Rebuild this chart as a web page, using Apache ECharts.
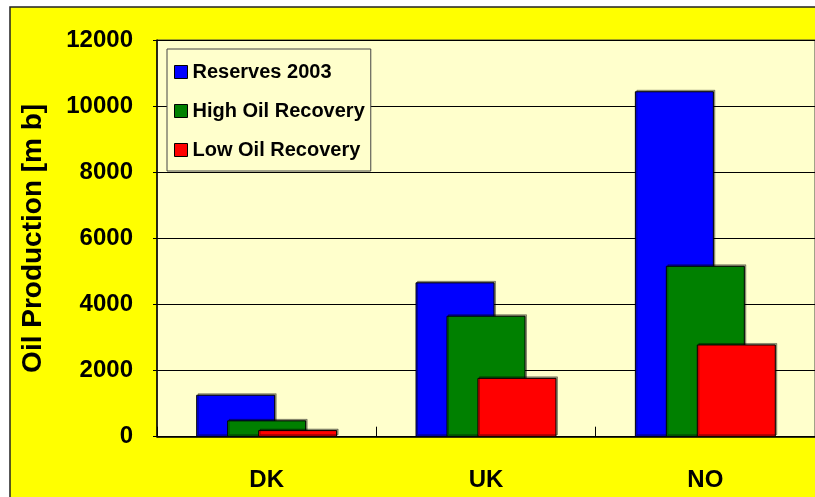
<!DOCTYPE html>
<html>
<head>
<meta charset="utf-8">
<script src="https://cdn.jsdelivr.net/npm/echarts@6/dist/echarts.min.js"></script>
<style>
html,body{margin:0;padding:0;background:#fff;}
#chart{width:815px;height:497px;}
</style>
</head>
<body>
<div id="chart"></div>
<script>
const categories = ['DK', 'UK', 'NO'];
const seriesNames = ['Reserves 2003', 'High Oil Recovery', 'Low Oil Recovery'];
const reserves2003 = [1270, 4670, 10450];
const highOilRecovery = [495, 3660, 5170];
const lowOilRecovery = [200, 1780, 2790];
const yTicks = [0, 2000, 4000, 6000, 8000, 10000, 12000];

const FONT = '"Liberation Sans", Arial, sans-serif';
const colors = ['#0000FF', '#008000', '#FF0000'];
const values = [reserves2003, highOilRecovery, lowOilRecovery];

const chart = echarts.init(document.getElementById('chart'), null, {renderer: 'canvas'});

const series = seriesNames.map((name, i) => ({
  name: name,
  type: 'bar',
  data: values[i],
  barWidth: 79,
  barGap: '-60.8%',
  itemStyle: {
    color: colors[i],
    borderColor: '#000',
    borderWidth: 1,
    shadowColor: 'rgba(0,0,0,0.35)',
    shadowOffsetX: 1.5,
    shadowOffsetY: -1.5,
    shadowBlur: 0
  },
  emphasis: {disabled: true},
  animation: false
}));

chart.setOption({
  animation: false,
  backgroundColor: '#ffffff',
  textStyle: {fontFamily: FONT},
  graphic: [{
    type: 'rect',
    z: -100,
    zlevel: 0,
    silent: true,
    shape: {x: 10, y: 7, width: 900, height: 600},
    style: {fill: '#FFFF00', stroke: '#222', lineWidth: 1.5}
  }],
  grid: {
    left: 157,
    top: 40,
    width: 663,
    height: 396.7,
    show: true,
    backgroundColor: '#FFFFCC',
    borderColor: '#444',
    borderWidth: 1
  },
  legend: {
    orient: 'vertical',
    left: 167,
    top: 49,
    data: seriesNames,
    backgroundColor: '#FFFFCC',
    borderColor: '#444',
    borderWidth: 1,
    padding: [13, 6, 11, 7],
    itemGap: 19,
    itemWidth: 13,
    itemHeight: 13,
    icon: 'rect',
    itemStyle: {borderColor: '#000', borderWidth: 1, shadowBlur: 0, shadowOffsetX: 0, shadowOffsetY: 0},
    textStyle: {fontFamily: FONT, fontWeight: 'bold', fontSize: 20, color: '#000'},
    selectedMode: false
  },
  xAxis: {
    type: 'category',
    data: categories,
    boundaryGap: true,
    axisLine: {show: true, lineStyle: {color: '#000', width: 1.5}},
    axisTick: {show: true, inside: true, length: 10, lineStyle: {color: '#000', width: 1}},
    axisLabel: {fontFamily: FONT, fontWeight: 'bold', fontSize: 24, color: '#000', margin: 32},
    splitLine: {show: false}
  },
  yAxis: {
    type: 'value',
    min: 0,
    max: 12000,
    interval: 2000,
    name: 'Oil Production [m b]',
    nameLocation: 'middle',
    nameRotate: 90,
    nameGap: 110,
    nameTextStyle: {fontFamily: FONT, fontWeight: 'bold', fontSize: 28, color: '#000'},
    axisLine: {show: true, lineStyle: {color: '#000', width: 1.5}},
    axisTick: {show: true, inside: false, length: 4, lineStyle: {color: '#000'}},
    axisLabel: {
      fontFamily: FONT, fontWeight: 'bold', fontSize: 24, color: '#000', margin: 24,
      formatter: v => yTicks.indexOf(v) >= 0 ? String(v) : ''
    },
    splitLine: {show: true, lineStyle: {color: '#000', width: 1}}
  },
  series: series
});
</script>
</body>
</html>
